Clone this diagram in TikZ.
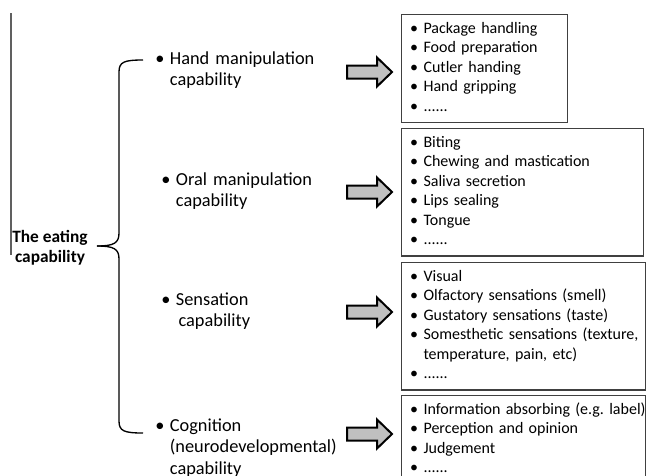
\documentclass[tikz,border=0pt]{standalone}
\usepackage{fontspec}
\setmainfont{Carlito}
\usepackage{tikz}
\usetikzlibrary{positioning, calc}
\definecolor{arrowgray}{RGB}{192, 192, 192}
\definecolor{boxgray}{RGB}{64, 64, 64}
\definecolor{edgegray}{RGB}{96, 96, 96}
\frenchspacing
% bullet line with hanging indent
\newcommand{\litem}[2][10pt]{\hangindent=#1\hangafter=1\noindent
    \rightskip=0pt plus 1fil\hyphenpenalty=10000
    \makebox[#1][l]{\textbullet}#2\strut\par}
\newcommand{\bitem}[1]{\leftskip=5.5pt\litem{#1}}

\begin{document}
\begin{tikzpicture}[x=0.75pt, y=-0.75pt,
    listbox/.style={draw=boxgray, line width=0.8pt, anchor=north west,
        inner xsep=1pt, inner ysep=4pt, font=\fontsize{12}{14.6}\selectfont},
    catlabel/.style={anchor=base west, inner sep=0pt, text width=150pt,
        font=\fontsize{13.75}{16.2}\selectfont},
    blockarrow/.style={fill=arrowgray, draw=black, line width=1.5pt, line join=miter},
    brace/.style={draw=black, line width=1pt}]
    \useasboundingbox (0,0) rectangle (648,475);
    \clip (0,0) rectangle (648,475);
    % Left edge line
    \draw[edgegray, line width=0.8pt] (11,13) -- (11,255);
    % Root label
    \node[anchor=base, inner sep=0pt, align=center,
        font=\fontsize{13}{15}\bfseries\selectfont] (eating) at (50,262)
        {The eating\\capability};
    % Brace
    \coordinate (btop) at (143,60);
    \coordinate (bmid) at (97,246);
    \coordinate (bbot) at (143,433);
    \draw[brace] (btop) .. controls (124,60) and (119,62) .. (119,72)
        -- (119,233) .. controls (119,243) and (114,246) .. (bmid);
    \draw[brace] (bmid) .. controls (114,246) and (119,249) .. (119,259)
        -- (119,421) .. controls (119,431) and (124,433) .. (bbot);
    % Capability labels
    \node[catlabel] (hand) at (155,64)
        {\litem[11pt]{Hand manipulation\hfil\break capability}};
    \node[catlabel] (oral) at (161,185)
        {\litem[11pt]{Oral manipulation\hfil\break capability}};
    \node[catlabel] (sense) at (161,305)
        {\litem[11pt]{Sensation\hfil\break\hspace*{2pt}capability}};
    \node[catlabel] (cogn) at (155,431)
        {\litem[11pt]{Cognition\hfil\break(neurodevelopmental)\hfil\break capability}};
    % Block arrows
    \foreach \y in {72,192,312,434} {
        \filldraw[blockarrow] (347,\y-6.5) -- (377,\y-6.5) -- (377,\y-14.5)
            -- (392,\y) -- (377,\y+14.5) -- (377,\y+6.5) -- (347,\y+6.5) -- cycle;
    }
    % Detail boxes
    \node[listbox, text width=122.5pt] (handbox) at (401,14)
        {\bitem{Package handling}\bitem{Food preparation}\bitem{Cutler handing}%
         \bitem{Hand gripping}\bitem{......}};
    \node[listbox, text width=179.5pt] (oralbox) at (401,128)
        {\bitem{Biting}\bitem{Chewing and mastication}\bitem{Saliva secretion}%
         \bitem{Lips sealing}\bitem{Tongue}\bitem{......}};
    \node[listbox, text width=181pt] (sensebox) at (401,262)
        {\bitem{Visual}\bitem{Olfactory sensations (smell)}%
         \bitem{Gustatory sensations (taste)}%
         \bitem{Somesthetic sensations (texture,\hfil\break temperature, pain, etc)}%
         \bitem{......}};
    \node[listbox, text width=181pt] (cognbox) at (401,395)
        {\bitem{\mbox{Information absorbing (e.g. label)}}\bitem{Perception and opinion}%
         \bitem{Judgement}\bitem{......}};
\end{tikzpicture}
\end{document}
